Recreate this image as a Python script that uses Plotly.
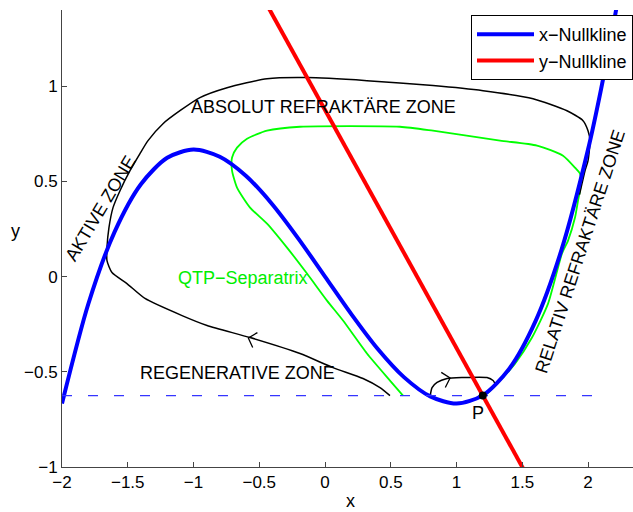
import math
import plotly.graph_objects as go

# --- FitzHugh-Nagumo phase plane: nullclines, trajectories, separatrix ---

# x-nullcline (cubic)
xnull_x = [-2.0, -1.8, -1.6, -1.4, -1.2, -1.0, -0.8, -0.6, -0.4, -0.2, 0.0, 0.2,
           0.4, 0.6, 0.8, 1.0, 1.2, 1.4, 1.6, 1.8, 2.0, 2.1, 2.2, 2.25]
xnull_y = [-0.667, -0.144, 0.235, 0.485, 0.624, 0.667, 0.629, 0.528, 0.379, 0.197, 0.0, -0.197,
           -0.379, -0.528, -0.629, -0.667, -0.624, -0.485, -0.235, 0.144, 0.667, 0.987, 1.349, 1.547]

# y-nullcline (straight line)
ynull_x = [-0.46, 1.54]
ynull_y = [1.45, -1.05]

# rest point P
p_x = [1.2]
p_y = [-0.625]

# horizontal reference through P
ref_x = [-2.0, 2.15]
ref_y = [-0.625, -0.625]

# action-potential trajectory
traj_x = [0.494, 0.418, 0.289, 0.061, -0.19, -0.57, -0.897, -1.087, -1.369, -1.506, -1.62,
          -1.658, -1.658, -1.643, -1.612, -1.559, -1.483, -1.407, -1.346, -1.232, -1.103,
          -0.951, -0.745, -0.441, -0.137, 0.319, 0.821, 1.202, 1.582, 1.84, 1.962, 2.0,
          2.015, 2.0, 1.977, 1.954, 1.935]
traj_y = [-0.625, -0.583, -0.535, -0.478, -0.404, -0.32, -0.257, -0.205, -0.115, -0.037, 0.021,
          0.084, 0.152, 0.257, 0.362, 0.451, 0.556, 0.646, 0.714, 0.803, 0.871,
          0.94, 0.992, 1.039, 1.045, 1.029, 1.003, 0.976, 0.934, 0.871, 0.819, 0.766,
          0.714, 0.609, 0.556, 0.488, 0.43]

# subthreshold excursion back to P
loop_x = [0.8, 0.814, 0.852, 0.928, 1.049, 1.232, 1.278, 1.3]
loop_y = [-0.625, -0.583, -0.556, -0.535, -0.53, -0.53, -0.546, -0.572]

# quasi-threshold separatrix
sep_x = [0.593, 0.494, 0.319, 0.137, 0.015, -0.137, -0.289, -0.441, -0.57, -0.669, -0.707,
         -0.707, -0.669, -0.593, -0.441, -0.19, 0.57, 0.821, 1.331, 1.612, 1.81, 1.901,
         1.939, 1.947, 1.924, 1.901, 1.848, 1.802, 1.696, 1.574, 1.445, 1.308, 1.232, 1.2]
sep_y = [-0.625, -0.546, -0.404, -0.231, -0.126, 0.016, 0.152, 0.278, 0.362, 0.467, 0.556,
         0.625, 0.677, 0.724, 0.766, 0.787, 0.787, 0.766, 0.714, 0.688, 0.635, 0.572,
         0.541, 0.488, 0.399, 0.31, 0.189, 0.121, -0.142, -0.32, -0.457, -0.562, -0.614, -0.625]

# direction markers on the trajectories: (head x, head y, point behind x, point behind y)
arrow_marks = [(-0.583, -0.322, -0.40, -0.362), (0.951, -0.533, 0.87, -0.548)]

x_ticks = [-2, -1.5, -1, -0.5, 0, 0.5, 1, 1.5, 2]
y_ticks = [-1, -0.5, 0, 0.5, 1]

X_RANGE = [-2, 2.342]
Y_RANGE = [-1, 1.4]
W, H = 633, 512
M_L, M_R, M_T, M_B = 62, 0, 10, 45
PW, PH = W - M_L - M_R, H - M_T - M_B

FONT = "Liberation Sans, Arial, Helvetica, sans-serif"
AX = "#444444"

fig = go.Figure()

fig.add_trace(go.Scatter(x=sep_x, y=sep_y, mode="lines", name="QTP-Separatrix",
                         line=dict(color="#00ff00", width=1.8, shape="spline", smoothing=0.6),
                         showlegend=False, hoverinfo="skip"))
fig.add_trace(go.Scatter(x=traj_x, y=traj_y, mode="lines", name="Trajektorie",
                         line=dict(color="black", width=1.5, shape="spline", smoothing=0.6),
                         showlegend=False, hoverinfo="skip"))
fig.add_trace(go.Scatter(x=loop_x, y=loop_y, mode="lines", name="Trajektorie 2",
                         line=dict(color="black", width=1.5, shape="spline", smoothing=0.6),
                         showlegend=False, hoverinfo="skip"))
fig.add_trace(go.Scatter(x=xnull_x, y=xnull_y, mode="lines", name="x\u2212Nullkline",
                         line=dict(color="#0000ff", width=4, shape="spline", smoothing=0.8)))
fig.add_trace(go.Scatter(x=ynull_x, y=ynull_y, mode="lines", name="y\u2212Nullkline",
                         line=dict(color="#ff0000", width=4)))
fig.add_trace(go.Scatter(x=ref_x, y=ref_y, mode="lines", showlegend=False, hoverinfo="skip",
                         line=dict(color="#3535ff", width=1.2, dash="10px,16px")))
fig.add_trace(go.Scatter(x=p_x, y=p_y, mode="markers", showlegend=False,
                         marker=dict(color="black", size=8)))

labels = [
    dict(text="ABSOLUT REFRAKT\u00c4RE ZONE", x=-0.012, y=0.892, textangle=0, color="black"),
    dict(text="REGENERATIVE ZONE", x=-0.665, y=-0.504, textangle=0, color="black"),
    dict(text="AKTIVE ZONE", x=-1.711, y=0.357, textangle=-59, color="black"),
    dict(text="RELATIV REFRAKT\u00c4RE ZONE", x=1.939, y=0.13, textangle=-72, color="black"),
    dict(text="QTP\u2212Separatrix", x=-0.62, y=-0.005, textangle=0, color="#00ee00"),
    dict(text="P", x=1.163, y=-0.714, textangle=0, color="black"),
]
annotations = []
for lb in labels:
    annotations.append(dict(text=lb["text"], x=lb["x"], y=lb["y"], xref="x", yref="y",
                            showarrow=False, textangle=lb["textangle"],
                            xanchor="center", yanchor="middle",
                            font=dict(family=FONT, size=18, color=lb["color"])))

# axis titles
annotations.append(dict(text="x", xref="paper", yref="paper", x=(350 - M_L) / PW, y=(H - M_B - 501) / PH,
                        showarrow=False, xanchor="center", yanchor="middle",
                        font=dict(family=FONT, size=18, color="black")))
annotations.append(dict(text="y", xref="paper", yref="paper", x=(15 - M_L) / PW, y=(H - M_B - 231) / PH,
                        showarrow=False, xanchor="center", yanchor="middle",
                        font=dict(family=FONT, size=18, color="black")))

# open chevrons showing the direction of motion along the trajectories
sx = PW / (X_RANGE[1] - X_RANGE[0])
sy = PH / (Y_RANGE[1] - Y_RANGE[0])
ARM = 10.5
HALF = math.radians(48)
shapes = []
for hx, hy, tx, ty in arrow_marks:
    bx, by = (tx - hx) * sx, (ty - hy) * sy
    n = math.hypot(bx, by)
    bx, by = bx / n, by / n
    pts = []
    for s in (1, -1):
        c, si = math.cos(s * HALF), math.sin(s * HALF)
        rx, ry = bx * c - by * si, bx * si + by * c
        pts.append((hx + ARM * rx / sx, hy + ARM * ry / sy))
    path = "M {:.5f},{:.5f} L {:.5f},{:.5f} L {:.5f},{:.5f}".format(
        pts[0][0], pts[0][1], hx, hy, pts[1][0], pts[1][1])
    shapes.append(dict(type="path", xref="x", yref="y", path=path,
                       line=dict(color="black", width=1.3)))

axis_common = dict(showgrid=False, zeroline=False, showline=True, linecolor=AX, linewidth=1,
                   ticks="inside", ticklen=5, tickcolor=AX, tickwidth=1,
                   tickfont=dict(family=FONT, size=17, color="black"), mirror=False)

fig.update_layout(
    width=W, height=H,
    margin=dict(l=M_L, r=M_R, t=M_T, b=M_B),
    paper_bgcolor="white", plot_bgcolor="white",
    xaxis=dict(range=X_RANGE, tickvals=x_ticks, **axis_common),
    yaxis=dict(range=Y_RANGE, tickvals=y_ticks, **axis_common),
    showlegend=True,
    legend=dict(x=(471 - M_L) / PW, y=(H - M_B - 15) / PH, xanchor="left", yanchor="top",
                bgcolor="white", bordercolor="black", borderwidth=1,
                font=dict(family=FONT, size=18, color="black"), itemwidth=57,
                tracegroupgap=0),
    annotations=annotations,
    shapes=shapes,
    font=dict(family=FONT),
)

fig.write_html("out.html")
